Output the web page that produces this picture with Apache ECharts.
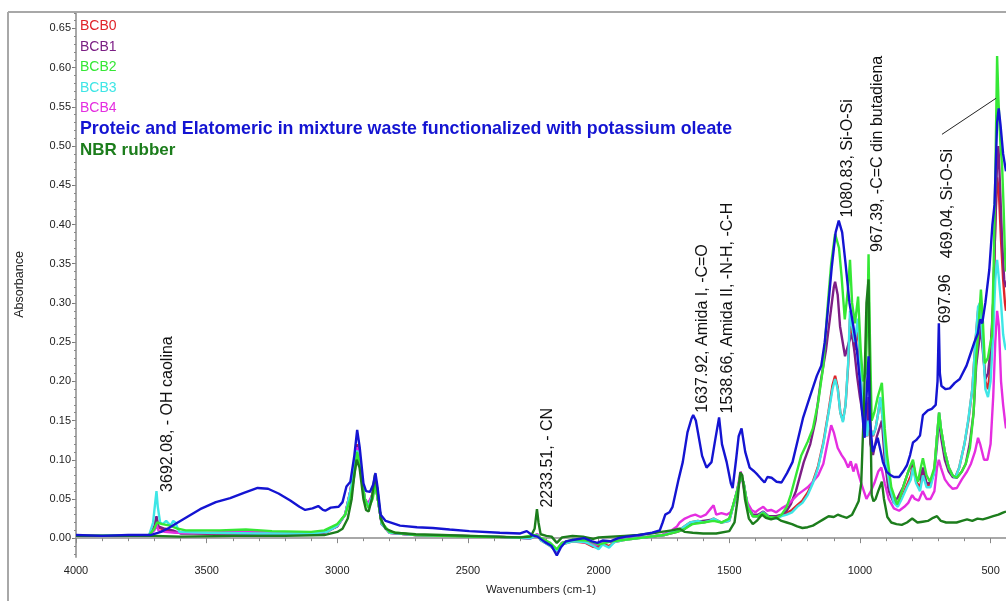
<!DOCTYPE html>
<html>
<head>
<meta charset="utf-8">
<script src="https://cdn.jsdelivr.net/npm/echarts@6.0.0/dist/echarts.min.js"></script>
<style>
html,body{margin:0;padding:0;background:#fff;}
#chart{width:1006px;height:601px;}
</style>
</head>
<body>
<div id="chart"></div>
<script>
// ---------- DATA ----------
const seriesNames = ["BCB0","BCB1","BCB2","BCB3","BCB4",
  "Proteic and Elatomeric in mixture waste functionalized with potassium oleate","NBR rubber"];
const wavenumberTicks = [4000,3500,3000,2500,2000,1500,1000,500];
const absorbanceTicks = [0,0.05,0.10,0.15,0.20,0.25,0.30,0.35,0.40,0.45,0.50,0.55,0.60,0.65];

const bcb0 = [[4000,.003],[3720,.004],[3700,.012],[3692,.026],[3685,.014],[3660,.01],[3620,.008],[3500,.006],[3300,.006],[3100,.006],[3040,.008],[3000,.016],[2970,.03],[2950,.06],[2935,.095],[2924,.12],[2912,.09],[2895,.05],[2880,.042],[2866,.056],[2854,.07],[2845,.05],[2830,.018],[2800,.007],[2700,.004],[2400,.002],[2260,0],[2235,.004],[2220,-.003],[2185,-.01],[2160,-.017],[2140,-.008],[2100,-.004],[2050,-.006],[2020,-.011],[2000,-.012],[1985,-.007],[1960,-.01],[1940,-.005],[1900,-.002],[1800,.002],[1750,.004],[1700,.01],[1680,.013],[1650,.02],[1620,.022],[1600,.02],[1575,.022],[1560,.025],[1530,.02],[1500,.022],[1470,.06],[1456,.08],[1445,.07],[1430,.04],[1410,.028],[1390,.028],[1370,.033],[1350,.027],[1320,.026],[1300,.029],[1280,.032],[1260,.036],[1240,.042],[1220,.048],[1200,.058],[1180,.072],[1160,.092],[1140,.122],[1120,.162],[1105,.195],[1095,.207],[1085,.192],[1075,.16],[1065,.15],[1055,.17],[1045,.22],[1038,.28],[1030,.26],[1020,.24],[1008,.27],[998,.21],[990,.17],[980,.16],[972,.13],[967,.15],[960,.14],[950,.13],[940,.14],[930,.16],[922,.178],[912,.15],[900,.097],[885,.065],[870,.047],[855,.043],[840,.052],[820,.068],[805,.08],[797,.095],[785,.072],[770,.065],[759,.085],[745,.068],[730,.068],[715,.088],[705,.13],[697,.16],[690,.14],[675,.11],[660,.09],[645,.08],[635,.078],[620,.09],[600,.12],[585,.15],[570,.19],[558,.25],[548,.29],[540,.30],[530,.25],[520,.2],[510,.19],[500,.22],[490,.3],[482,.4],[475,.46],[468,.44],[460,.38],[452,.33],[445,.3],[441,.29]];

const bcb1 = [[4000,.003],[3720,.003],[3700,.015],[3692,.028],[3685,.015],[3660,.012],[3630,.01],[3600,.006],[3400,.006],[3200,.005],[3050,.007],[3000,.015],[2970,.03],[2950,.06],[2935,.09],[2924,.118],[2912,.09],[2895,.05],[2880,.042],[2866,.055],[2854,.07],[2845,.05],[2830,.018],[2800,.007],[2700,.004],[2400,.002],[2260,0],[2235,.005],[2220,-.002],[2185,-.008],[2160,-.015],[2140,-.006],[2100,-.003],[2040,-.005],[2010,-.01],[1990,-.006],[1950,-.004],[1900,-.001],[1800,.002],[1750,.004],[1700,.008],[1670,.012],[1640,.02],[1600,.022],[1560,.024],[1530,.02],[1500,.024],[1470,.06],[1456,.082],[1445,.07],[1430,.04],[1410,.03],[1390,.03],[1370,.034],[1350,.028],[1320,.028],[1300,.03],[1280,.035],[1265,.043],[1245,.06],[1215,.097],[1190,.12],[1170,.15],[1150,.2],[1130,.24],[1115,.28],[1100,.32],[1095,.327],[1085,.31],[1076,.27],[1057,.232],[1042,.25],[1030,.261],[1020,.235],[1011,.207],[1000,.18],[990,.16],[975,.13],[967,.18],[960,.12],[950,.106],[935,.13],[916,.15],[905,.10],[890,.06],[870,.045],[855,.052],[835,.065],[815,.085],[797,.097],[785,.075],[770,.075],[759,.09],[745,.07],[730,.07],[715,.085],[705,.12],[697,.155],[690,.13],[675,.1],[660,.085],[645,.078],[629,.077],[610,.085],[595,.095],[580,.12],[565,.16],[555,.22],[548,.24],[537,.27],[530,.24],[520,.203],[510,.21],[500,.24],[490,.3],[482,.40],[476,.47],[470,.50],[464,.45],[456,.38],[448,.33],[441,.32]];

const bcb2 = [[4000,.003],[3800,.003],[3720,.004],[3700,.012],[3690,.02],[3670,.018],[3640,.016],[3610,.012],[3580,.010],[3450,.010],[3350,.011],[3250,.009],[3100,.008],[3050,.010],[3000,.018],[2970,.030],[2950,.05],[2935,.08],[2924,.11],[2912,.09],[2895,.05],[2880,.038],[2865,.05],[2854,.068],[2845,.05],[2830,.02],[2800,.008],[2700,.004],[2500,.002],[2300,.001],[2240,.004],[2220,0],[2185,-.006],[2160,-.014],[2140,-.006],[2100,-.002],[2040,-.003],[2000,-.008],[1975,-.006],[1950,-.004],[1900,-.002],[1800,.002],[1750,.004],[1700,.008],[1670,.012],[1640,.018],[1600,.02],[1560,.022],[1530,.02],[1500,.025],[1470,.06],[1456,.08],[1445,.07],[1430,.04],[1410,.028],[1390,.028],[1370,.032],[1350,.027],[1320,.026],[1300,.03],[1280,.04],[1265,.055],[1245,.08],[1225,.105],[1200,.123],[1180,.14],[1160,.173],[1140,.22],[1125,.29],[1110,.35],[1095,.388],[1080,.37],[1070,.333],[1058,.279],[1045,.32],[1038,.355],[1030,.30],[1019,.274],[1007,.308],[997,.24],[988,.20],[978,.21],[970,.30],[967,.362],[962,.26],[955,.15],[945,.16],[932,.18],[916,.198],[905,.14],[896,.106],[880,.065],[858,.043],[847,.052],[830,.07],[810,.09],[797,.10],[786,.08],[778,.072],[767,.09],[759,.102],[745,.08],[732,.072],[715,.09],[705,.13],[697,.16],[690,.14],[675,.11],[660,.09],[645,.08],[629,.077],[610,.085],[595,.095],[579,.115],[565,.16],[555,.23],[548,.258],[537,.317],[530,.28],[522,.223],[510,.23],[500,.25],[495,.258],[488,.35],[481,.48],[475,.615],[470,.56],[462,.50],[456,.476],[450,.42],[445,.362],[441,.34]];

const bcb3 = [[4000,.003],[3720,.004],[3705,.02],[3697,.045],[3692,.06],[3687,.04],[3678,.02],[3668,.018],[3655,.022],[3648,.02],[3638,.016],[3628,.022],[3620,.02],[3605,.008],[3500,.007],[3300,.006],[3100,.006],[3040,.008],[3000,.016],[2970,.03],[2950,.06],[2935,.09],[2924,.112],[2912,.09],[2895,.05],[2880,.04],[2866,.055],[2854,.068],[2845,.05],[2830,.018],[2800,.007],[2700,.004],[2400,.002],[2260,0],[2235,.004],[2220,-.003],[2185,-.01],[2160,-.016],[2140,-.008],[2100,-.004],[2050,-.005],[2020,-.01],[2000,-.014],[1985,-.008],[1960,-.012],[1940,-.005],[1900,-.002],[1800,.002],[1750,.004],[1700,.01],[1680,.013],[1650,.02],[1620,.022],[1600,.02],[1575,.022],[1560,.025],[1530,.02],[1500,.022],[1470,.06],[1456,.08],[1445,.07],[1430,.04],[1410,.028],[1390,.028],[1370,.033],[1350,.027],[1320,.025],[1300,.028],[1280,.03],[1260,.033],[1240,.04],[1220,.045],[1200,.055],[1180,.07],[1160,.09],[1140,.12],[1120,.16],[1105,.19],[1095,.203],[1085,.19],[1075,.16],[1065,.148],[1055,.17],[1045,.224],[1038,.29],[1030,.27],[1020,.25],[1008,.28],[998,.22],[990,.17],[980,.16],[972,.13],[967,.15],[960,.14],[950,.131],[940,.14],[930,.16],[922,.18],[912,.15],[900,.097],[885,.065],[870,.045],[855,.04],[840,.05],[820,.065],[805,.075],[797,.09],[785,.07],[770,.06],[759,.08],[745,.065],[730,.065],[715,.085],[705,.13],[697,.16],[690,.14],[675,.11],[660,.09],[645,.08],[635,.077],[620,.09],[600,.12],[585,.152],[570,.19],[558,.25],[548,.295],[540,.30],[530,.25],[520,.19],[510,.18],[500,.2],[490,.26],[482,.33],[475,.355],[468,.33],[460,.3],[452,.26],[445,.245],[441,.24]];

const bcb4 = [[4000,.003],[3720,.004],[3700,.01],[3692,.018],[3685,.01],[3660,.008],[3620,.007],[3500,.007],[3400,.008],[3350,.009],[3300,.008],[3100,.006],[3040,.008],[3000,.016],[2970,.03],[2950,.06],[2935,.095],[2924,.116],[2912,.09],[2895,.05],[2885,.043],[2866,.055],[2854,.07],[2845,.05],[2830,.018],[2800,.007],[2700,.004],[2400,.002],[2260,0],[2235,.005],[2220,-.002],[2185,-.008],[2160,-.016],[2140,-.006],[2100,-.003],[2040,-.006],[2010,-.009],[1990,-.005],[1950,-.004],[1900,-.001],[1800,.002],[1760,.004],[1730,.008],[1700,.015],[1690,.02],[1670,.025],[1650,.028],[1630,.03],[1610,.027],[1590,.03],[1570,.038],[1560,.042],[1550,.03],[1530,.032],[1510,.03],[1495,.033],[1480,.045],[1465,.07],[1456,.085],[1445,.065],[1430,.045],[1415,.036],[1400,.033],[1385,.037],[1370,.04],[1355,.035],[1340,.036],[1320,.033],[1300,.038],[1280,.042],[1260,.048],[1240,.055],[1220,.06],[1200,.065],[1180,.072],[1160,.08],[1140,.095],[1125,.12],[1110,.144],[1100,.135],[1085,.115],[1070,.106],[1058,.1],[1045,.09],[1035,.098],[1025,.085],[1015,.095],[1005,.081],[995,.07],[985,.06],[975,.05],[967,.055],[958,.06],[945,.07],[930,.085],[918,.09],[905,.07],[890,.05],[870,.038],[850,.035],[830,.04],[815,.045],[800,.055],[790,.05],[775,.048],[760,.06],[745,.05],[730,.05],[715,.06],[705,.09],[698,.1],[690,.09],[675,.075],[660,.068],[645,.063],[629,.064],[610,.075],[590,.085],[575,.095],[560,.11],[548,.128],[540,.12],[525,.10],[512,.10],[500,.12],[490,.18],[482,.25],[475,.29],[468,.27],[460,.2],[452,.17],[445,.15],[441,.14]];

const proteic = [[4000,.004],[3900,.003],[3800,.004],[3715,.004],[3675,.008],[3645,.013],[3620,.018],[3575,.027],[3525,.037],[3465,.046],[3410,.051],[3355,.058],[3305,.064],[3265,.063],[3225,.057],[3180,.048],[3145,.040],[3123,.036],[3095,.038],[3073,.041],[3055,.036],[3046,.035],[3025,.039],[2995,.040],[2980,.046],[2965,.066],[2950,.072],[2935,.105],[2924,.138],[2914,.115],[2900,.070],[2890,.060],[2875,.059],[2863,.068],[2854,.083],[2846,.065],[2834,.030],[2815,.022],[2760,.016],[2695,.014],[2635,.013],[2570,.011],[2495,.009],[2378,.007],[2300,.006],[2275,.009],[2255,.004],[2234,.002],[2205,-.005],[2180,-.010],[2160,-.022],[2145,-.012],[2125,-.004],[2095,-.002],[2055,0],[2025,-.004],[2005,-.006],[1985,-.003],[1955,-.004],[1925,0],[1895,.002],[1843,.004],[1795,.007],[1766,.010],[1755,.020],[1745,.030],[1729,.033],[1717,.040],[1694,.075],[1678,.097],[1660,.135],[1645,.152],[1638,.157],[1628,.15],[1620,.135],[1604,.105],[1587,.090],[1568,.097],[1554,.125],[1539,.154],[1528,.12],[1510,.097],[1494,.07],[1487,.064],[1474,.10],[1464,.13],[1453,.140],[1439,.11],[1422,.090],[1404,.085],[1392,.081],[1379,.076],[1365,.071],[1354,.078],[1338,.077],[1319,.072],[1300,.071],[1279,.083],[1258,.097],[1238,.125],[1218,.153],[1192,.18],[1165,.207],[1148,.22],[1135,.249],[1123,.29],[1108,.345],[1093,.39],[1081,.405],[1068,.39],[1055,.35],[1040,.30],[1025,.27],[1012,.241],[1000,.20],[993,.165],[982,.128],[972,.20],[967,.232],[962,.15],[951,.11],[940,.12],[932,.128],[920,.11],[912,.097],[898,.085],[885,.081],[870,.078],[850,.078],[835,.085],[820,.093],[808,.106],[797,.122],[785,.125],[770,.131],[759,.157],[740,.163],[725,.165],[710,.17],[703,.20],[698,.274],[694,.21],[688,.194],[672,.19],[656,.191],[637,.198],[618,.203],[592,.22],[580,.232],[562,.25],[549,.261],[540,.279],[532,.274],[520,.30],[505,.342],[493,.40],[485,.425],[475,.53],[469,.548],[462,.527],[452,.49],[441,.468]];

const nbr = [[4000,.003],[3700,.003],[3600,.002],[3400,.003],[3200,.003],[3050,.004],[3000,.008],[2980,.012],[2960,.025],[2945,.05],[2935,.08],[2926,.100],[2915,.09],[2900,.05],[2890,.036],[2880,.034],[2868,.05],[2856,.081],[2846,.06],[2834,.025],[2815,.012],[2780,.007],[2700,.005],[2600,.004],[2400,.002],[2300,.001],[2260,.002],[2245,.012],[2236,.037],[2230,.02],[2222,.005],[2200,.003],[2180,.002],[2160,-.006],[2140,.001],[2100,.003],[2060,.002],[2020,-.001],[2000,.001],[1950,.002],[1900,.003],[1850,.004],[1800,.006],[1760,.008],[1720,.010],[1690,.012],[1670,.008],[1640,.007],[1600,.006],[1550,.006],[1500,.009],[1480,.02],[1468,.05],[1458,.084],[1450,.08],[1440,.05],[1425,.025],[1410,.018],[1395,.022],[1375,.03],[1360,.026],[1340,.024],[1320,.026],[1300,.022],[1280,.02],[1260,.018],[1240,.015],[1220,.013],[1200,.014],[1180,.016],[1160,.02],[1140,.024],[1120,.028],[1100,.027],[1085,.03],[1070,.028],[1050,.026],[1030,.03],[1015,.04],[1005,.047],[995,.07],[985,.165],[975,.3],[967,.33],[962,.2],[955,.055],[948,.047],[940,.05],[930,.06],[916,.072],[908,.05],[895,.027],[880,.02],[860,.018],[840,.017],[820,.02],[800,.025],[780,.02],[760,.021],[740,.022],[720,.026],[705,.028],[690,.022],[670,.02],[650,.02],[630,.02],[610,.022],[590,.024],[570,.022],[550,.025],[530,.024],[510,.026],[490,.028],[470,.03],[450,.033],[441,.034]];

// peak annotations: text, anchor (bottom of the rotated text) in data units
const annotText = ["3692.08, - OH caolina","2233.51, - CN","1637.92, Amida I, -C=O",
  "1538.66, Amida II, -N-H, -C-H","1080.83, Si-O-Si","967.39, -C=C din butadiena","697.96","469.04, Si-O-Si"];
const annotWn  = [3648, 2197, 1604, 1505, 1046, 931, 671, 663];
const annotAbs = [0.059, 0.039, 0.160, 0.159, 0.409, 0.365, 0.274, 0.357];
const leaderFrom = [686, 0.515];
const leaderTo   = [479, 0.561];

// ---------- CHART ----------
const colors = ['#e0242a','#7d1e86','#35e835','#3ee6e6','#e52ee0','#1414d2','#1c7d1c'];
const dataSets = [bcb0,bcb1,bcb2,bcb3,bcb4,proteic,nbr];
// drawing order (bottom to top)
const drawOrder = [0,1,4,3,2,6,5];

const FONT = '"Liberation Sans", Arial, sans-serif';
const chart = echarts.init(document.getElementById('chart'), null, {renderer:'canvas'});

const minorX = []; for (let v = 500; v <= 4000; v += 100) minorX.push(v);
const minorY = []; for (let k = -2; k <= 67; k++) minorY.push(+(k/100).toFixed(2));

const axisLineStyle = {color:'#a8a8a8', width:2};

const option = {
  animation:false,
  backgroundColor:'#fff',
  grid:{left:76, right:0, top:12, bottom:37.3, containLabel:false},
  legend:{
    orient:'vertical', left:75, top:16, padding:0, itemGap:0,
    icon:'none', itemWidth:0, itemHeight:10, selectedMode:false,
    textStyle:{fontFamily:FONT, lineHeight:20.5, fontSize:14},
    data:[
      {name:seriesNames[0], textStyle:{color:colors[0], fontSize:14}},
      {name:seriesNames[1], textStyle:{color:colors[1], fontSize:14}},
      {name:seriesNames[2], textStyle:{color:colors[2], fontSize:14}},
      {name:seriesNames[3], textStyle:{color:colors[3], fontSize:14}},
      {name:seriesNames[4], textStyle:{color:colors[4], fontSize:14}},
      {name:seriesNames[5], textStyle:{color:colors[5], fontSize:17.8, fontWeight:'bold', lineHeight:21.5}},
      {name:seriesNames[6], textStyle:{color:colors[6], fontSize:17, fontWeight:'bold', lineHeight:20.5}}
    ]
  },
  xAxis:[{
    type:'value', inverse:true, min:441, max:4000, position:'bottom',
    name:'Wavenumbers (cm-1)', nameLocation:'middle', nameGap:27,
    nameTextStyle:{fontFamily:FONT, fontSize:11.5, color:'#222'},
    axisLine:{show:true, lineStyle:axisLineStyle},
    axisTick:{show:true, length:5, lineStyle:{color:'#888'}, customValues:wavenumberTicks},
    axisLabel:{fontFamily:FONT, fontSize:11, color:'#222', margin:8, customValues:wavenumberTicks,
      formatter:v=>String(Math.round(v))},
    splitLine:{show:false}
  },{
    type:'value', inverse:true, min:441, max:4000, position:'bottom', offset:0,
    axisLine:{show:false},
    axisTick:{show:true, length:3, lineStyle:{color:'#888'}, customValues:minorX},
    axisLabel:{show:false}, splitLine:{show:false}
  }],
  yAxis:[{
    type:'value', min:-0.024, max:0.671, position:'left',
    name:'Absorbance', nameLocation:'middle', nameGap:50,
    nameTextStyle:{fontFamily:FONT, fontSize:12.5, color:'#222'},
    axisLine:{show:true, lineStyle:axisLineStyle},
    axisTick:{show:true, length:4, lineStyle:{color:'#777'}, customValues:absorbanceTicks},
    axisLabel:{fontFamily:FONT, fontSize:11, color:'#222', margin:5, customValues:absorbanceTicks,
      formatter:v=>v.toFixed(2)},
    splitLine:{show:false}
  },{
    type:'value', min:-0.024, max:0.671, position:'left', offset:0,
    axisLine:{show:false},
    axisTick:{show:true, length:2, lineStyle:{color:'#888'}, customValues:minorY},
    axisLabel:{show:false}, splitLine:{show:false}
  }],
  series: drawOrder.map(i => ({
    name:seriesNames[i], type:'line', data:dataSets[i],
    xAxisIndex:0, yAxisIndex:0, showSymbol:false, symbol:'none',
    color:colors[i], lineStyle:{color:colors[i], width:2.4},
    emphasis:{disabled:true}, silent:true, z:2+drawOrder.indexOf(i)
  }))
};
chart.setOption(option);

// annotations and frame, positioned through the axes' scales
const graphics = [
  {type:'line', silent:true, shape:{x1:8, y1:12, x2:1006, y2:12}, style:{stroke:'#a8a8a8', lineWidth:2}},
  {type:'line', silent:true, shape:{x1:8, y1:12, x2:8, y2:601}, style:{stroke:'#a8a8a8', lineWidth:2}}
];
annotText.forEach((t, i) => {
  const p = chart.convertToPixel({xAxisIndex:0, yAxisIndex:0}, [annotWn[i], annotAbs[i]]);
  graphics.push({
    type:'text', silent:true, x:p[0], y:p[1], rotation:Math.PI/2, z:100,
    style:{text:t, fontFamily:FONT, fontSize:16, fill:'#111',
      align:'left', verticalAlign:'middle', textAlign:'left', textVerticalAlign:'middle'}
  });
});
const a = chart.convertToPixel({xAxisIndex:0, yAxisIndex:0}, leaderFrom);
const b = chart.convertToPixel({xAxisIndex:0, yAxisIndex:0}, leaderTo);
graphics.push({type:'line', silent:true, z:100, shape:{x1:a[0], y1:a[1], x2:b[0], y2:b[1]},
  style:{stroke:'#222', lineWidth:1}});
chart.setOption({graphic:graphics});
</script>
</body>
</html>
